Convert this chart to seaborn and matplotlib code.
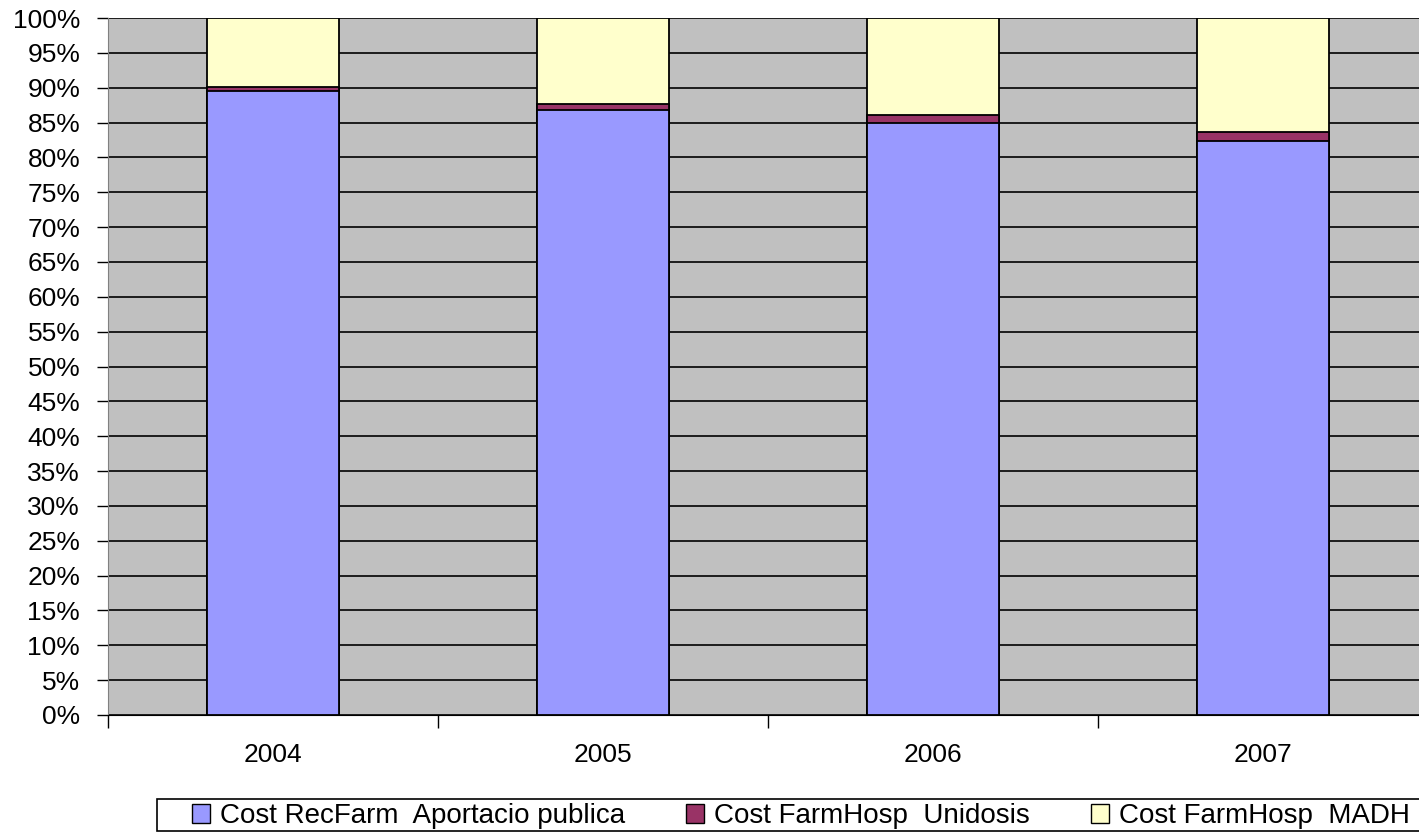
import pandas as pd
import numpy as np
import seaborn as sns
import matplotlib.pyplot as plt
from matplotlib.ticker import FixedLocator, PercentFormatter
from matplotlib.patches import Patch, Rectangle

# datos (porcentaje del total por año)
years = ["2004", "2005", "2006", "2007"]
aportacio = [89.5, 86.8, 85.0, 82.3]
unidosis = [0.6, 0.9, 1.1, 1.3]
madh = [9.9, 12.3, 13.9, 16.4]

labels = ["Cost RecFarm  Aportacio publica", "Cost FarmHosp  Unidosis", "Cost FarmHosp  MADH"]
colors = ["#9999FF", "#993366", "#FFFFCC"]

df = pd.DataFrame({"year": years, "a": aportacio, "u": unidosis, "m": madh})
df["c1"] = df["a"]
df["c2"] = df["a"] + df["u"]
df["c3"] = df["a"] + df["u"] + df["m"]

sns.set_style("white")
plt.rcParams["font.family"] = ["Liberation Sans", "DejaVu Sans"]
plt.rcParams["text.color"] = "black"
plt.rcParams["xtick.color"] = "black"
plt.rcParams["ytick.color"] = "black"

fig = plt.figure(figsize=(14.19, 8.35), dpi=100)
ax = fig.add_axes([108 / 1419, 120 / 835, 1320 / 1419, 697 / 835])
ax.set_facecolor("#C0C0C0")

# barras apiladas: de la más alta a la más baja
for col, color in zip(["c3", "c2", "c1"], colors[::-1]):
    sns.barplot(data=df, x="year", y=col, color=color, width=0.4,
                edgecolor="black", linewidth=1.3, saturation=1, ax=ax, zorder=3)

ax.set_ylim(0, 100)
ax.set_xlim(-0.5, 3.5)
ax.yaxis.set_major_locator(FixedLocator(np.arange(0, 101, 5)))
ax.yaxis.set_major_formatter(PercentFormatter(decimals=0))
ax.grid(axis="y", color="black", linewidth=1.2, zorder=0)
ax.set_axisbelow(True)
ax.set_xlabel("")
ax.set_ylabel("")

ax.tick_params(axis="y", labelsize=19, left=True, length=8, width=1, color="black",
               pad=12, labelcolor="black")
ax.tick_params(axis="x", which="major", labelsize=19, bottom=False, pad=17, labelcolor="black")
ax.set_xticks([-0.5, 0.5, 1.5, 2.5, 3.5], minor=True)
ax.tick_params(axis="x", which="minor", bottom=True, length=9, width=1, color="black")

for s in ["top", "right"]:
    ax.spines[s].set_visible(False)
ax.spines["left"].set_color("#808080")
ax.spines["bottom"].set_color("black")

# marco de la leyenda (se sale por la derecha como en el original)
fig.patches.append(Rectangle((157 / 1419, 4 / 835), 1300 / 1419, 32 / 835,
                             transform=fig.transFigure, facecolor="white",
                             edgecolor="black", linewidth=1.2))

handles = [Patch(facecolor=c, edgecolor="black", label=l) for c, l in zip(colors, labels)]
leg = fig.legend(handles=handles, loc="center left", bbox_to_anchor=(192 / 1419, 19 / 835),
                 ncol=3, fontsize=20, frameon=False, handlelength=0.65,
                 handleheight=0.65, handletextpad=0.36, columnspacing=2.2,
                 borderpad=0, borderaxespad=0)

fig.savefig("out.png", dpi=100)
